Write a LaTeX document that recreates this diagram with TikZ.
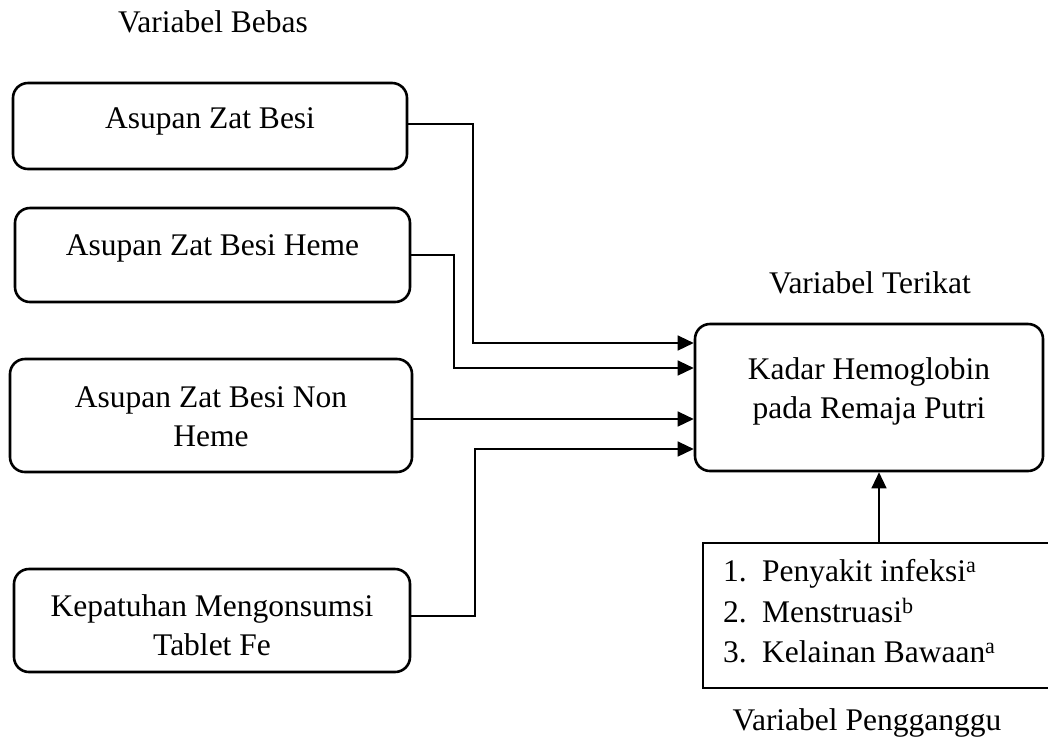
\documentclass[tikz,border=0pt]{standalone}
\usepackage{fontspec}
\setmainfont{Liberation Serif}
\usetikzlibrary{arrows.meta}
\begin{document}
\begin{tikzpicture}[x=1pt,y=-1pt,
  box/.style={draw,line width=2.6pt,rounded corners=15pt,inner sep=0pt},
  sqbox/.style={draw,line width=2.8pt,inner sep=0pt},
  txt/.style={font=\fontsize{31.5}{39}\selectfont,inner sep=0pt,anchor=base},
  conn/.style={line width=1.3pt},
  arr/.style={line width=1.3pt,-{Triangle[length=16pt,width=15pt]}}]
\useasboundingbox[fill=white] (0,0) rectangle (1048,740);
% boxes
\node[box,minimum width=394pt,minimum height=86pt] (b1) at (210,126) {};
\node[box,minimum width=395pt,minimum height=94pt] (b2) at (212.5,255) {};
\node[box,minimum width=402pt,minimum height=113pt] (b3) at (211,415.5) {};
\node[box,minimum width=396pt,minimum height=103pt] (b4) at (212,620.5) {};
\node[box,minimum width=348pt,minimum height=147pt] (k) at (869,397.5) {};
\node[sqbox,minimum width=361pt,minimum height=145pt] (p) at (883.5,615.5) {};
% texts
\node[txt] (tbebas) at (213,32.3) {Variabel Bebas};
\node[txt] (tterikat) at (870,293.5) {Variabel Terikat};
\node[txt] (tpeng) at (867,730) {Variabel Pengganggu};
\node[txt] (t1) at (210,128.5) {Asupan Zat Besi};
\node[txt] (t2) at (212.5,255.5) {Asupan Zat Besi Heme};
\node[txt] (t3) at (211,407.5) {\begin{tabular}[t]{@{}c@{}}Asupan Zat Besi Non\\Heme\end{tabular}};
\node[txt] (t4) at (212,616) {\begin{tabular}[t]{@{}c@{}}Kepatuhan Mengonsumsi\\Tablet Fe\end{tabular}};
\node[txt] (tk) at (869,379.5) {\begin{tabular}[t]{@{}c@{}}Kadar Hemoglobin\\pada Remaja Putri\end{tabular}};
\node[txt,anchor=base west,font=\fontsize{31.5}{40.5}\selectfont] (tp) at (723,581.7) {\begin{tabular}[t]{@{}l@{}}\makebox[39pt][l]{1.}Penyakit infeksi\textsuperscript{a}\\\makebox[39pt][l]{2.}Menstruasi\textsuperscript{b}\\\makebox[39pt][l]{3.}Kelainan Bawaan\textsuperscript{a}\end{tabular}};
% connectors
\draw[arr] ([yshift=2pt]b1.east) -| (473,343) -- ([yshift=54.5pt]k.west);
\draw[arr] (b2.east) -| (454,368) -- ([yshift=29.5pt]k.west);
\draw[arr] ([yshift=-3.5pt]b3.east) -- ([yshift=-21.5pt]k.west);
\draw[arr] ([yshift=4.5pt]b4.east) -| (475,449) -- ([yshift=-51.5pt]k.west);
\draw[arr] ([xshift=-4.5pt]p.north) -- ([xshift=10pt]k.south);
\end{tikzpicture}
\end{document}
